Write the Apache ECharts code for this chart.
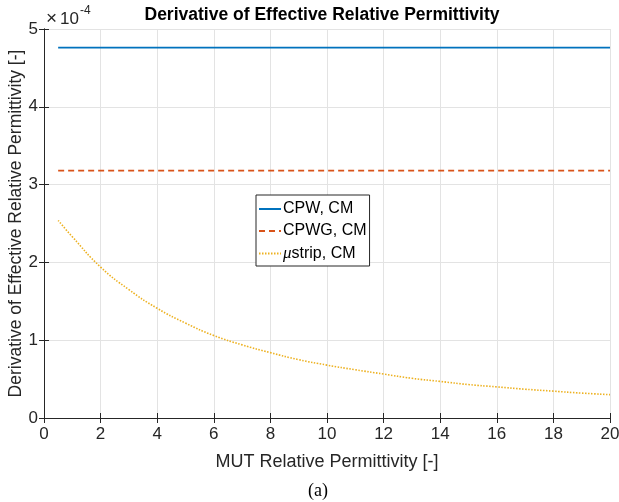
<!DOCTYPE html>
<html>
<head>
<meta charset="utf-8">
<script src="https://cdn.jsdelivr.net/npm/echarts@6/dist/echarts.min.js"></script>
<style>
  html, body { margin: 0; padding: 0; background: #fff; }
  #permChart { width: 619px; height: 502px; }
</style>
</head>
<body>
<div id="permChart"></div>
<script>
// values in units of 1e-4 (the axis multiplier)
const flatX = [0.5, 20]
const cpwY = [4.76, 4.76]
const cpwgY = [3.18, 3.18]
const stripX = [0.5, 1, 2, 3, 4, 5, 6, 7, 8, 9, 10, 11, 12, 13, 14, 15, 16, 17, 18, 19, 20]
const stripY = [2.54, 2.33, 1.94, 1.65, 1.41, 1.22, 1.06, 0.94, 0.84, 0.75, 0.68, 0.62, 0.565, 0.51, 0.47, 0.43, 0.40, 0.37, 0.345, 0.32, 0.30]
const seriesNames = ['CPW, CM', 'CPWG, CM', 'μstrip, CM']

const pairs = (xs, ys) => xs.map((x, i) => [x, ys[i]])

const axisColor = '#262626'
const gridColor = '#e3e3e3'
const font = "'Liberation Sans', Arial, Helvetica, sans-serif"
const serif = "'Liberation Serif', 'Times New Roman', serif"

const chart = echarts.init(document.getElementById('permChart'))

// top / right axes only close the box (matlab "box on")
const boxAxis = {
  type: 'value',
  axisLine: { show: true, lineStyle: { color: axisColor, width: 1 } },
  axisTick: { show: true, inside: true, length: 5, lineStyle: { color: axisColor } },
  axisLabel: { show: false },
  splitLine: { show: false }
}

const option = {
  animation: false,
  grid: {
    left: 44,
    right: 9,
    top: 29,
    bottom: 84,
    containLabel: false,
    outerBoundsMode: 'none'
  },
  xAxis: [
    {
      type: 'value',
      min: 0,
      max: 20,
      interval: 2,
      name: 'MUT Relative Permittivity [-]',
      nameLocation: 'middle',
      nameGap: 35,
      nameMoveOverlap: false,
      nameTextStyle: { color: axisColor, fontSize: 18, fontFamily: font },
      axisLine: { onZero: false, lineStyle: { color: axisColor, width: 1 } },
      axisTick: { inside: true, length: 5, lineStyle: { color: axisColor } },
      axisLabel: { color: axisColor, fontSize: 17, fontFamily: font, margin: 8 },
      splitLine: { show: true, lineStyle: { color: gridColor, width: 1 } }
    },
    Object.assign({}, boxAxis, { position: 'top', min: 0, max: 20, interval: 2 })
  ],
  yAxis: [
    {
      type: 'value',
      min: 0,
      max: 5,
      interval: 1,
      name: 'Derivative of Effective Relative Permittivity [-]',
      nameLocation: 'middle',
      nameGap: 19,
      nameMoveOverlap: false,
      nameTextStyle: { color: axisColor, fontSize: 17.5, fontFamily: font },
      axisLine: { show: true, onZero: false, lineStyle: { color: axisColor, width: 1 } },
      axisTick: { show: true, inside: true, length: 5, lineStyle: { color: axisColor } },
      axisLabel: { color: axisColor, fontSize: 17, fontFamily: font, margin: 6 },
      splitLine: { show: true, lineStyle: { color: gridColor, width: 1 } }
    },
    Object.assign({}, boxAxis, { position: 'right', min: 0, max: 5, interval: 1 })
  ],
  legend: {
    orient: 'vertical',
    left: 256,
    top: 195,
    padding: [6, 3, 4, 2],
    itemGap: 6,
    itemWidth: 22,
    itemHeight: 10,
    backgroundColor: '#fff',
    borderColor: axisColor,
    borderWidth: 1,
    borderRadius: 0,
    data: seriesNames,
    itemStyle: { opacity: 0 },
    formatter: function (name) {
      // mu is set in italic like the TeX interpreter does
      return name.charAt(0) === 'μ' ? '{mu|μ}strip, CM' : name
    },
    textStyle: {
      color: '#000',
      fontSize: 16,
      fontFamily: font,
      padding: [0, 0, 0, -3],
      rich: {
        mu: { fontSize: 17, fontStyle: 'italic', fontFamily: serif, color: '#000' }
      }
    }
  },
  graphic: [
    {
      type: 'text',
      style: {
        text: 'Derivative of Effective Relative Permittivity',
        x: 322,
        y: 15,
        align: 'center',
        verticalAlign: 'middle',
        fontSize: 17.5,
        fontWeight: 'bold',
        fontFamily: font,
        fill: '#000'
      }
    },
    {
      type: 'text',
      style: { text: '×', x: 46, y: 19, verticalAlign: 'middle', fontSize: 19, fontFamily: font, fill: axisColor }
    },
    {
      type: 'text',
      style: { text: '10', x: 60, y: 19, verticalAlign: 'middle', fontSize: 17, fontFamily: font, fill: axisColor }
    },
    {
      type: 'text',
      style: { text: '-4', x: 80, y: 11, verticalAlign: 'middle', fontSize: 12, fontFamily: font, fill: axisColor }
    },
    {
      type: 'text',
      style: {
        text: '(a)',
        x: 318,
        y: 491,
        align: 'center',
        verticalAlign: 'middle',
        fontSize: 18,
        fontFamily: serif,
        fill: '#000'
      }
    }
  ],
  series: [
    {
      name: seriesNames[0],
      type: 'line',
      data: pairs(flatX, cpwY),
      symbol: 'none',
      lineStyle: { color: '#0072BD', width: 1.6 },
      itemStyle: { color: '#0072BD' }
    },
    {
      name: seriesNames[1],
      type: 'line',
      data: pairs(flatX, cpwgY),
      symbol: 'none',
      lineStyle: { color: '#D95319', width: 1.6, type: [6, 4] },
      itemStyle: { color: '#D95319' }
    },
    {
      name: seriesNames[2],
      type: 'line',
      data: pairs(stripX, stripY),
      symbol: 'none',
      smooth: true,
      lineStyle: { color: '#EDB120', width: 1.6, type: [1.5, 1.5] },
      itemStyle: { color: '#EDB120' }
    }
  ]
}

chart.setOption(option)
</script>
</body>
</html>
